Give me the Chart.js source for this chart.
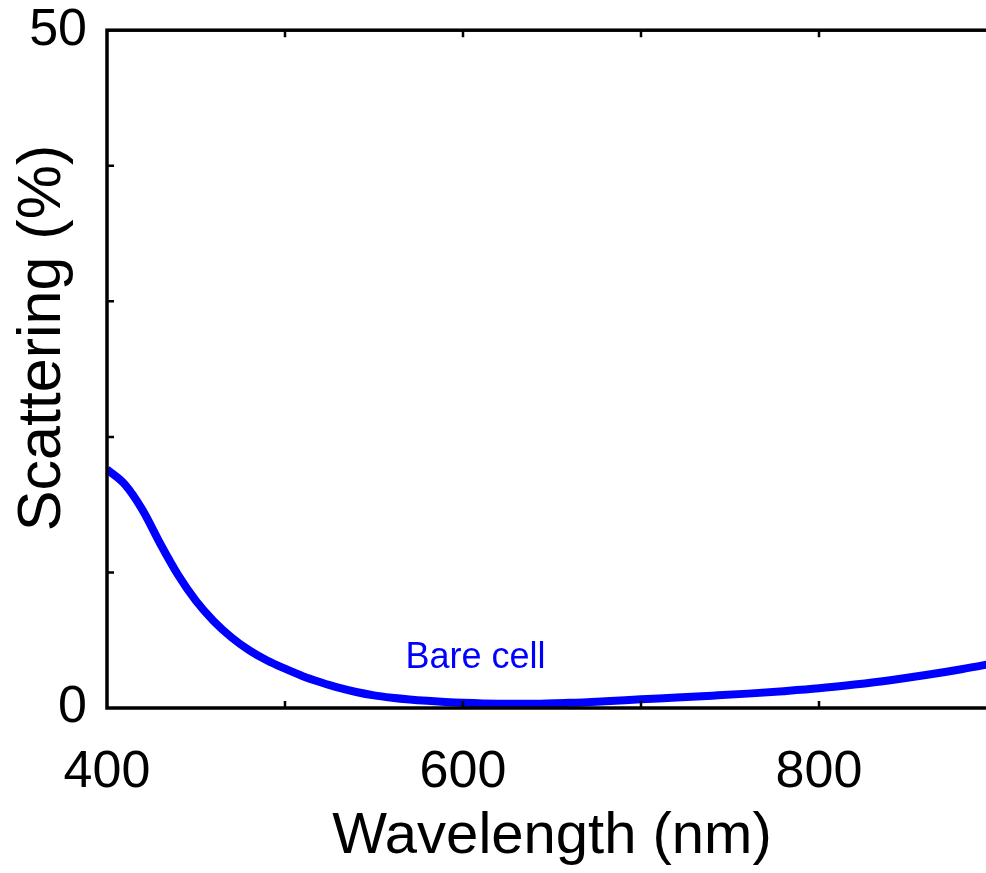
<!DOCTYPE html>
<html lang="en">
<head>
  <meta charset="UTF-8">
  <title>Scattering vs Wavelength</title>
  <script src="https://cdn.jsdelivr.net/npm/chart.js"></script>
  <style>
    body {
      margin: 0;
      padding: 0;
      background: #fff;
      overflow: hidden;
    }
    .wrap {
      width: 1022px;
      height: 873px;
    }
  </style>
</head>
<body>
  <div class="wrap">
    <canvas id="scatterChart" width="1022" height="873"></canvas>
  </div>

  <script>
    // data
    const wavelengths = [400, 410, 420, 430, 440, 450, 460, 470, 480, 490, 500, 510, 520, 530, 540, 550,
      560, 570, 580, 590, 600, 620, 640, 660, 680, 700, 720, 740, 760, 780, 800, 820, 840, 860, 880, 900];
    const scattering = [17.6, 16.5, 14.6, 12.1, 9.8, 7.9, 6.4, 5.2, 4.25, 3.5, 2.9, 2.35, 1.9, 1.5, 1.18, 0.93,
      0.76, 0.63, 0.53, 0.45, 0.39, 0.32, 0.31, 0.38, 0.5, 0.64, 0.77, 0.91, 1.06, 1.24, 1.45, 1.73, 2.05, 2.43, 2.86, 3.35];
    const xTickLabels = [400, 600, 800];
    const yTickLabels = [0, 50];

    const FONT = 'Arial, "Liberation Sans", sans-serif';

    // frame with inward ticks on all four sides + axis titles + label
    const framePlugin = {
      id: "frame",
      afterDatasetsDraw(chart) {
        const ctx = chart.ctx;
        const a = chart.chartArea;
        const xs = chart.scales.x;
        const ys = chart.scales.y;
        const tick = 7;
        ctx.save();
        ctx.strokeStyle = "#000";
        ctx.lineWidth = 3.5;
        ctx.strokeRect(a.left, a.top, a.right - a.left, a.bottom - a.top);
        ctx.lineWidth = 2.5;
        ctx.beginPath();
        xs.ticks.forEach(t => {
          const px = xs.getPixelForValue(t.value);
          if (px <= a.left + 2 || px >= a.right - 2) return;
          ctx.moveTo(px, a.bottom);
          ctx.lineTo(px, a.bottom - tick);
          ctx.moveTo(px, a.top);
          ctx.lineTo(px, a.top + tick);
        });
        ys.ticks.forEach(t => {
          const py = ys.getPixelForValue(t.value);
          if (py <= a.top + 2 || py >= a.bottom - 2) return;
          ctx.moveTo(a.left, py);
          ctx.lineTo(a.left + tick, py);
          ctx.moveTo(a.right, py);
          ctx.lineTo(a.right - tick, py);
        });
        ctx.stroke();

        // axis titles
        ctx.fillStyle = "#000";
        ctx.textAlign = "center";
        ctx.textBaseline = "alphabetic";
        ctx.font = "58px " + FONT;
        ctx.fillText("Wavelength (nm)", (a.left + a.right) / 2, 853);
        ctx.font = "61px " + FONT;
        ctx.translate(60, 338);
        ctx.rotate(-Math.PI / 2);
        ctx.fillText("Scattering (%)", 0, 0);
        ctx.restore();

        // series label
        ctx.save();
        ctx.fillStyle = "#0000ff";
        ctx.font = "36px " + FONT;
        ctx.textAlign = "center";
        ctx.textBaseline = "middle";
        ctx.fillText("Bare cell", xs.getPixelForValue(607), ys.getPixelForValue(3.7));
        ctx.restore();
      }
    };

    const ctx = document.getElementById("scatterChart").getContext("2d");
    const chart = new Chart(ctx, {
      type: "line",
      data: {
        labels: wavelengths,
        datasets: [{
          label: "Bare cell",
          data: wavelengths.map((w, i) => ({ x: w, y: scattering[i] })),
          borderColor: "#0000ff",
          borderWidth: 8,
          pointRadius: 0,
          fill: false,
          cubicInterpolationMode: "monotone"
        }]
      },
      options: {
        responsive: false,
        animation: false,
        layout: {
          padding: { top: 30, right: 3, left: 0, bottom: 0 }
        },
        plugins: {
          legend: { display: false },
          tooltip: { enabled: false }
        },
        scales: {
          x: {
            type: "linear",
            min: 400,
            max: 900,
            grid: { display: false },
            border: { display: false },
            ticks: {
              stepSize: 100,
              maxRotation: 0,
              padding: 25,
              color: "#000",
              font: { family: FONT, size: 52 },
              callback: v => xTickLabels.includes(v) ? String(v) : ""
            },
            afterFit: s => { s.height = 165; }
          },
          y: {
            min: 0,
            max: 50,
            grid: { display: false },
            border: { display: false },
            ticks: {
              stepSize: 10,
              padding: 12,
              color: "#000",
              font: { family: FONT, size: 52, lineHeight: 0.7 },
              callback: v => yTickLabels.includes(v) ? String(v) : ""
            },
            afterFit: s => { s.width = 107; }
          }
        }
      },
      plugins: [framePlugin]
    });
  </script>
</body>
</html>
